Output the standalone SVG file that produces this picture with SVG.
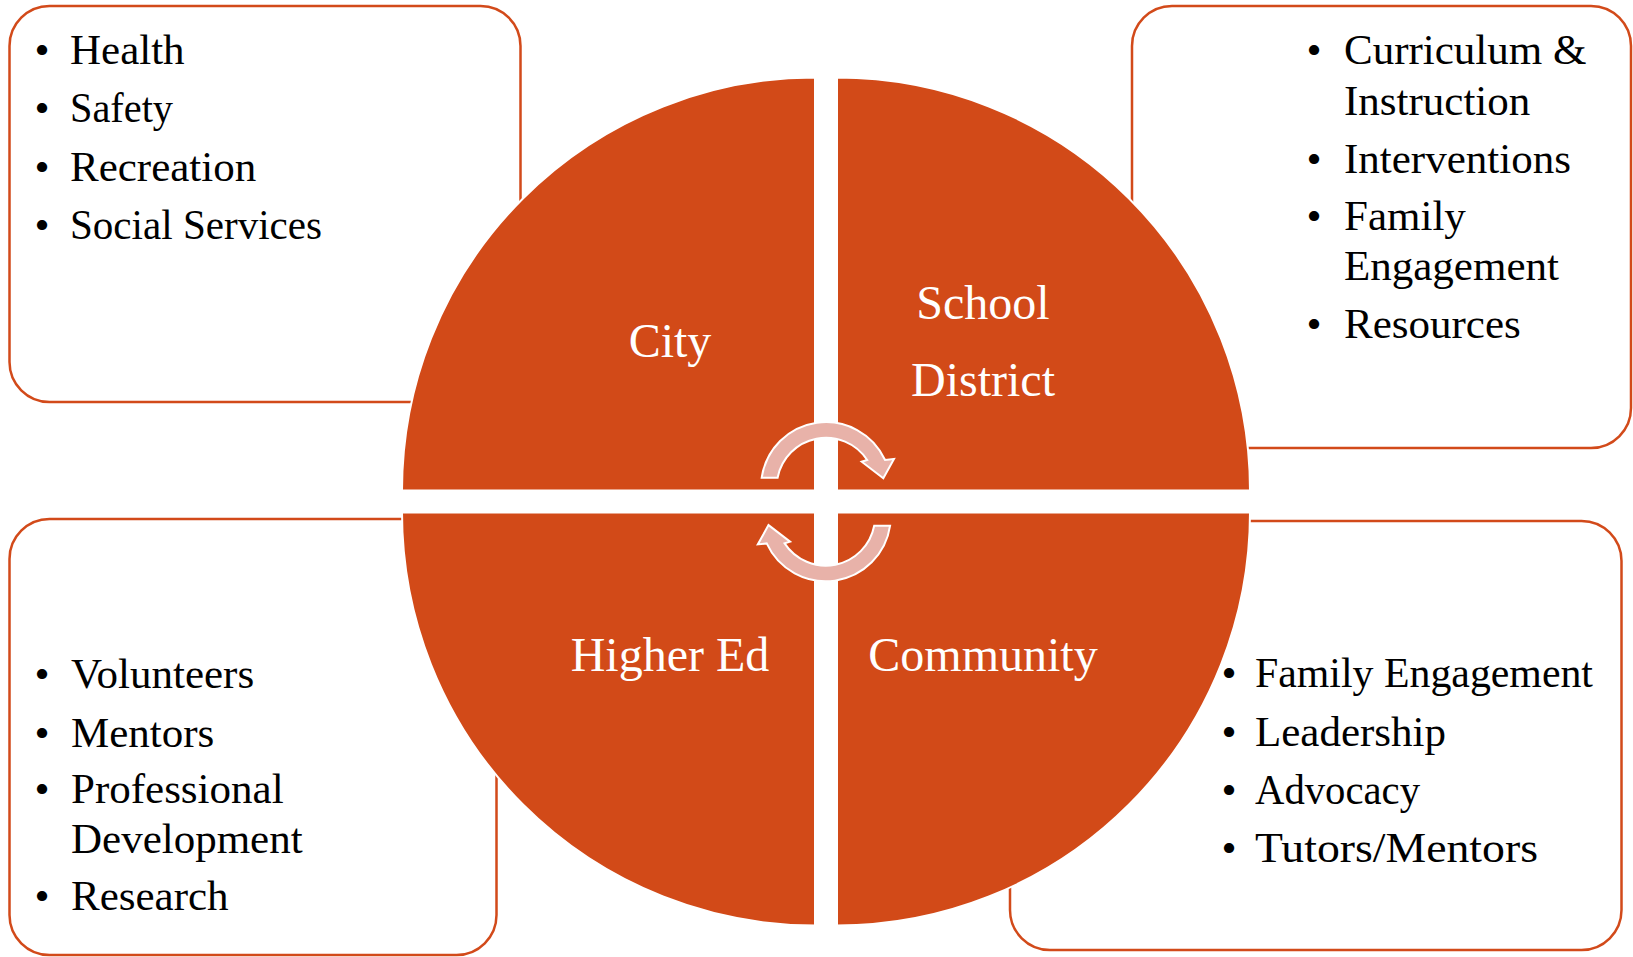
<svg xmlns="http://www.w3.org/2000/svg" width="1633" height="957" viewBox="0 0 1633 957">
<style>
.box{fill:#ffffff;stroke:#D24A1A;stroke-width:2.5}
.quad{fill:#D24A18;stroke:#ffffff;stroke-width:2}
.arr{fill:#E8B2A9;stroke:#ffffff;stroke-width:2;stroke-linejoin:miter}
.lbl{font-family:"Liberation Serif",serif;font-size:48px;fill:#ffffff;text-anchor:middle}
.item{font-family:"Liberation Serif",serif;font-size:43px;fill:#000000}
.bul{font-family:"Liberation Serif",serif;font-size:43px;fill:#000000;text-anchor:middle}
</style>
<rect width="1633" height="957" fill="#ffffff"/>
<g id="box-city">
<rect class="box" x="9.5" y="6" width="511" height="396" rx="40" ry="40"/>
<text class="bul" x="42" y="64">•</text><text class="item" x="70" y="64">Health</text>
<text class="bul" x="42" y="122">•</text><text class="item" x="70" y="122" textLength="103" lengthAdjust="spacingAndGlyphs">Safety</text>
<text class="bul" x="42" y="181">•</text><text class="item" x="70" y="181">Recreation</text>
<text class="bul" x="42" y="239">•</text><text class="item" x="70" y="239" textLength="252" lengthAdjust="spacingAndGlyphs">Social Services</text>
</g>
<g id="box-school">
<rect class="box" x="1132" y="6" width="499" height="442" rx="40" ry="40"/>
<text class="bul" x="1314" y="64">•</text><text class="item" x="1344" y="64">Curriculum &amp;</text>
<text class="item" x="1344" y="115">Instruction</text>
<text class="bul" x="1314" y="173">•</text><text class="item" x="1344" y="173">Interventions</text>
<text class="bul" x="1314" y="230">•</text><text class="item" x="1344" y="230">Family</text>
<text class="item" x="1344" y="280">Engagement</text>
<text class="bul" x="1314" y="338">•</text><text class="item" x="1344" y="338">Resources</text>
</g>
<g id="box-higher">
<rect class="box" x="9.5" y="519" width="487" height="436" rx="40" ry="40"/>
<text class="bul" x="42" y="688">•</text><text class="item" x="71" y="688">Volunteers</text>
<text class="bul" x="42" y="747">•</text><text class="item" x="71" y="747">Mentors</text>
<text class="bul" x="42" y="803">•</text><text class="item" x="71" y="803">Professional</text>
<text class="item" x="71" y="853">Development</text>
<text class="bul" x="42" y="910">•</text><text class="item" x="71" y="910">Research</text>
</g>
<g id="box-community">
<rect class="box" x="1010" y="521" width="611.5" height="429" rx="40" ry="40"/>
<text class="bul" x="1229" y="687">•</text><text class="item" x="1255" y="687" textLength="338" lengthAdjust="spacingAndGlyphs">Family Engagement</text>
<text class="bul" x="1229" y="746">•</text><text class="item" x="1255" y="746">Leadership</text>
<text class="bul" x="1229" y="804">•</text><text class="item" x="1255" y="804" textLength="165" lengthAdjust="spacingAndGlyphs">Advocacy</text>
<text class="bul" x="1229" y="862">•</text><text class="item" x="1255" y="862" textLength="283" lengthAdjust="spacingAndGlyphs">Tutors/Mentors</text>
</g>
<g id="q-city">
<path class="quad" d="M 815 490.5 L 402 490.5 A 413 413 0 0 1 815 77.5 Z"/>
<text class="lbl" x="670" y="357">City</text>
</g>
<g id="q-school">
<path class="quad" d="M 837 490.5 L 837 77.5 A 413 413 0 0 1 1250 490.5 Z"/>
<text class="lbl" x="983" y="319">School</text>
<text class="lbl" x="983" y="396">District</text>
</g>
<g id="q-higher">
<path class="quad" d="M 815 512.5 L 815 925.5 A 413 413 0 0 1 402 512.5 Z"/>
<text class="lbl" x="670" y="671">Higher Ed</text>
</g>
<g id="q-community">
<path class="quad" d="M 837 512.5 L 1250 512.5 A 413 413 0 0 1 837 925.5 Z"/>
<text class="lbl" x="983" y="671">Community</text>
</g>
<g id="connectors">
<path id="arrow-top" class="arr" d="M 761.7 477.7 A 65 65 0 0 1 885.1 460 L 894 459 L 883.3 478.3 L 861.7 461.7 L 867.2 460 A 49.3 49.3 0 0 0 777.6 477.7 Z"/>
<path id="arrow-bottom" class="arr" transform="rotate(180 825.9 501.7)" d="M 761.7 477.7 A 65 65 0 0 1 885.1 460 L 894 459 L 883.3 478.3 L 861.7 461.7 L 867.2 460 A 49.3 49.3 0 0 0 777.6 477.7 Z"/>
</g>
</svg>
